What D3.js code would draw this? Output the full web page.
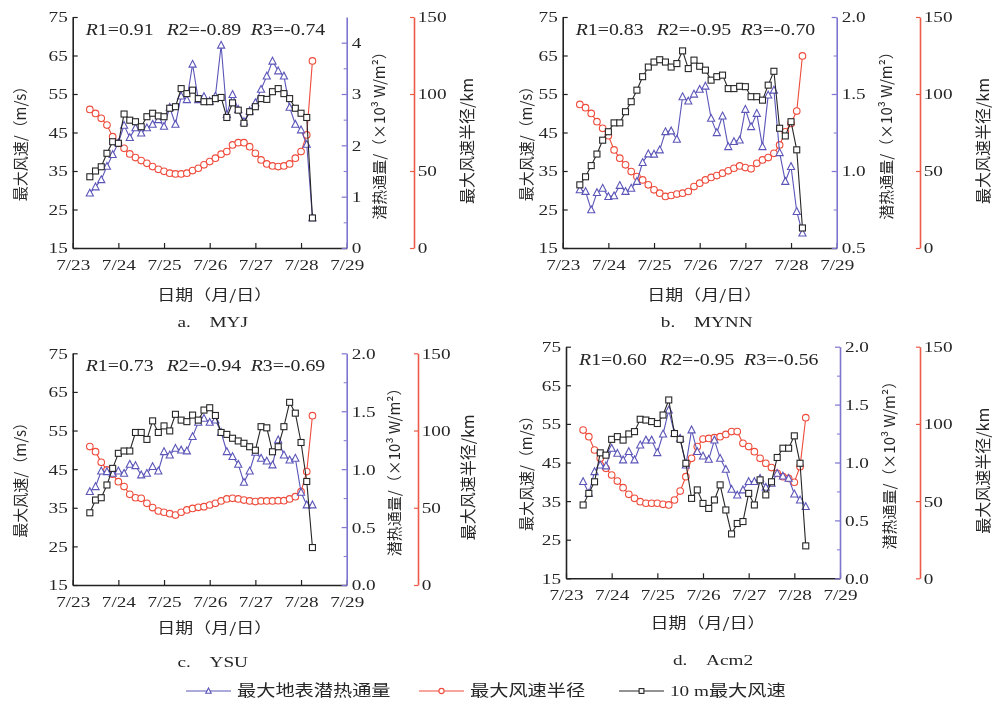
<!DOCTYPE html>
<html>
<head>
<meta charset="utf-8">
<script src="https://cdn.jsdelivr.net/npm/d3@7/dist/d3.min.js"></script>
<style>
body { margin: 0; background: #fff; }
svg { will-change: transform; }
svg text { fill: #262626; }
</style>
</head>
<body>
<div id="chart"></div>
<script>
// hours after 7/23 00:00 (3-hourly output)
var hours = [9, 12, 15, 18, 21, 24, 27, 30, 33, 36, 39, 42, 45, 48, 51, 54, 57, 60, 63, 66,
             69, 72, 75, 78, 81, 84, 87, 90, 93, 96, 99, 102, 105, 108, 111, 114, 117, 120, 123, 126];
var dayTicks = [0, 24, 48, 72, 96, 120, 144];
var dayLabels = ["7/23", "7/24", "7/25", "7/26", "7/27", "7/28", "7/29"];
var windTicks = [15, 25, 35, 45, 55, 65, 75];
var radiusTicks = [0, 50, 100, 150];

// a. MYJ
var myjWind = [33.5, 35.0, 36.1, 39.6, 42.6, 42.2, 49.8, 48.2, 47.8, 46.5, 49.1, 50.0, 49.3, 49.1, 51.3, 51.7, 56.4, 55.1, 56.0, 53.8,
               53.0, 53.0, 53.8, 54.1, 48.9, 52.7, 50.8, 47.4, 50.4, 51.7, 53.8, 53.6, 55.6, 56.4, 55.1, 53.8, 51.3, 50.0, 48.9, 22.8];
var myjFlux = [1.07, 1.19, 1.33, 1.59, 1.82, 2.05, 2.39, 2.15, 2.34, 2.24, 2.34, 2.41, 2.50, 2.37, 2.74, 2.41, 2.96, 2.89, 3.58, 2.89,
               2.95, 2.86, 2.96, 3.95, 2.60, 2.99, 2.70, 2.46, 2.67, 2.83, 3.09, 3.35, 3.64, 3.45, 3.35, 2.74, 2.41, 2.30, 2.02, 0.59];
var myjRadius = [90.0, 87.4, 84.2, 79.8, 72.3, 68.0, 64.7, 61.1, 58.7, 56.8, 55.0, 52.9, 51.1, 49.8, 48.6, 48.1, 48.1, 48.6, 50.3, 51.8,
                 54.0, 56.1, 58.3, 60.9, 62.6, 66.9, 68.4, 68.4, 65.8, 61.5, 57.2, 54.6, 53.3, 52.9, 53.3, 54.6, 58.3, 62.6, 73.4, 121.5];

// b. MYNN
var mynnWind = [31.4, 33.5, 36.4, 39.4, 43.0, 45.2, 47.5, 47.5, 50.4, 53.0, 56.0, 59.5, 62.0, 63.3, 63.9, 63.3, 62.0, 62.9, 66.2, 61.6,
                63.8, 62.2, 61.2, 58.6, 59.5, 59.9, 56.4, 56.4, 57.0, 56.9, 54.3, 54.3, 53.4, 57.3, 60.9, 46.1, 44.1, 47.8, 40.5, 20.2];
var mynnFlux = [0.878, 0.867, 0.748, 0.860, 0.888, 0.834, 0.839, 0.906, 0.867, 0.888, 0.932, 1.055, 1.111, 1.109, 1.137, 1.255, 1.260, 1.206, 1.482, 1.454,
                1.499, 1.530, 1.551, 1.342, 1.249, 1.357, 1.158, 1.191, 1.201, 1.400, 1.288, 1.374, 1.158, 1.493, 1.525, 1.119, 0.932, 1.029, 0.737, 0.597];
var mynnRadius = [93.2, 91.1, 87.4, 82.0, 77.7, 72.9, 63.7, 58.3, 54.0, 49.6, 46.4, 44.2, 41.0, 37.8, 35.6, 33.5, 34.1, 35.0, 35.6, 36.7,
                  39.9, 42.1, 44.2, 45.8, 47.0, 48.6, 50.1, 51.8, 53.3, 52.2, 51.4, 55.0, 57.2, 58.7, 61.5, 66.9, 75.5, 80.9, 88.9, 124.7];

// c. YSU
var ysuWind = [33.7, 37.0, 37.6, 40.9, 45.2, 49.1, 49.7, 49.7, 54.5, 54.5, 52.7, 57.5, 54.5, 56.2, 54.9, 59.2, 57.7, 57.3, 59.0, 57.7,
               60.3, 60.9, 58.9, 54.5, 54.0, 53.0, 52.3, 51.7, 50.8, 49.9, 56.0, 55.7, 49.5, 50.8, 56.0, 62.3, 59.5, 51.9, 41.8, 24.7];
var ysuFlux = [0.806, 0.849, 0.984, 0.978, 0.964, 0.984, 0.964, 1.042, 1.030, 0.950, 0.964, 1.022, 0.984, 1.151, 1.122, 1.180, 1.165, 1.157, 1.281, 1.404,
               1.439, 1.404, 1.424, 1.318, 1.151, 1.108, 1.042, 0.886, 0.984, 1.145, 1.094, 1.070, 1.036, 1.252, 1.122, 1.079, 1.094, 0.800, 0.691, 0.691];
var ysuRadius = [89.6, 86.3, 79.4, 74.5, 71.7, 66.9, 63.7, 58.7, 56.5, 56.1, 52.9, 50.1, 47.9, 47.1, 46.2, 45.3, 47.1, 48.6, 49.6, 50.3,
                 50.7, 51.8, 52.9, 54.4, 55.7, 56.1, 55.7, 55.0, 54.4, 54.0, 54.4, 54.4, 54.4, 54.6, 54.6, 55.7, 57.2, 60.4, 73.4, 109.6];

// d. Acm2
var acmWind = [34.0, 37.0, 40.0, 47.5, 46.9, 51.0, 51.7, 50.8, 52.4, 53.0, 56.2, 56.0, 55.6, 55.1, 57.3, 61.2, 52.5, 51.0, 44.8, 35.7,
               37.9, 34.4, 33.1, 35.3, 39.2, 32.7, 26.5, 29.2, 29.7, 37.0, 34.0, 40.5, 36.6, 40.0, 46.3, 48.7, 48.7, 51.9, 44.8, 23.4];
var acmFlux = [0.835, 0.734, 0.921, 0.978, 0.970, 1.122, 1.079, 1.022, 1.094, 1.022, 1.151, 1.194, 1.194, 1.085, 1.246, 1.453, 1.252, 1.209, 0.978, 1.281,
               1.094, 1.056, 1.027, 1.194, 1.036, 0.941, 0.768, 0.719, 0.763, 0.835, 0.835, 0.863, 0.786, 0.820, 0.906, 0.883, 0.863, 0.728, 0.676, 0.619];
var acmRadius = [96.0, 91.7, 83.1, 77.7, 71.2, 66.9, 63.0, 58.7, 54.4, 51.8, 49.6, 48.6, 48.6, 48.6, 47.9, 47.5, 50.7, 56.5, 65.8, 77.7,
                 85.3, 90.2, 90.6, 91.1, 91.7, 93.2, 95.0, 95.0, 87.4, 85.3, 82.0, 77.7, 74.5, 71.7, 68.0, 65.8, 64.7, 62.2, 72.3, 104.0];

var rMyj = ["0.91", "-0.89", "-0.74"];
var rMynn = ["0.83", "-0.95", "-0.70"];
var rYsu = ["0.73", "-0.94", "-0.69"];
var rAcm = ["0.60", "-0.95", "-0.56"];

var fluxTicksA = [0, 1, 2, 3, 4];
var fluxTicksB = [0.5, 1.0, 1.5, 2.0];
var fluxTicksCD = [0, 0.5, 1.0, 1.5, 2.0];

var legendNames = ["最大地表潜热通量", "最大风速半径", "10 m最大风速"];

var W = 993, H = 704;
var sx = 1.24; // the figure is stretched sideways
var serif = "'Liberation Serif', 'DejaVu Serif', serif";
var cjk = "'Noto Sans CJK SC', sans-serif";
var cBlack = "#262626", cBlue = "#5b55b8", cRed = "#ee4b3b";
var cBlueAxis = "#7d74d0", cRedAxis = "#ec5a48";

var svg = d3.select("#chart").append("svg")
   .attr("width", W)
   .attr("height", H);

function txt(parent, x, y, str, size, anchor, family, rotate) {
  var g = parent.append("g")
     .attr("transform", "translate(" + x + "," + y + ")" + (rotate ? " rotate(-90)" : " scale(" + sx + ",1)"));
  return g.append("text")
     .attr("text-anchor", anchor)
     .attr("font-family", family)
     .attr("font-size", size)
     .attr("fill", "#262626")
     .text(str);
}

function stretchTicks(ax) {
  ax.selectAll("text")
    .attr("font-family", serif)
    .attr("font-size", 15.5)
    .attr("fill", "#262626")
    .attr("transform", "scale(" + sx + ",1)");
}

function drawMarker(g, type, cx, cy, color, s) {
  if (type == "square") {
    g.append("rect").attr("x", cx - s).attr("y", cy - s).attr("width", 2 * s).attr("height", 2 * s)
     .attr("fill", "#fff").attr("stroke", color).attr("stroke-width", 1.1);
  } else if (type == "circle") {
    g.append("circle").attr("cx", cx).attr("cy", cy).attr("r", s)
     .attr("fill", "#fff").attr("stroke", color).attr("stroke-width", 1.1);
  } else {
    var h = s * 1.15;
    g.append("path")
     .attr("d", "M" + cx + "," + (cy - h) + "L" + (cx + s * 1.05) + "," + (cy + h * 0.75) + "L" + (cx - s * 1.05) + "," + (cy + h * 0.75) + "Z")
     .attr("fill", "#fff").attr("stroke", color).attr("stroke-width", 1.1);
  }
}

function drawPanel(p) {
  var g = svg.append("g");

  var x = d3.scaleLinear().domain([0, 144]).range([p.x0, p.x1]);
  var yW = d3.scaleLinear().domain([15, 75]).range([p.y1, p.y0]);
  var yF = d3.scaleLinear().domain(p.fluxDomain).range([p.y1, p.y0]);
  var yR = d3.scaleLinear().domain([0, 150]).range([p.y1, p.y0]);

  // left axis
  var axL = g.append("g").attr("transform", "translate(" + p.x0 + ",0)")
     .call(d3.axisLeft(yW).tickValues(windTicks).tickSizeInner(-5).tickSizeOuter(0).tickPadding(4));
  axL.select(".domain").attr("stroke", "#222").attr("stroke-width", 1.6);
  axL.selectAll("line").attr("stroke", "#222").attr("stroke-width", 1.2);
  stretchTicks(axL);

  // bottom axis
  var axB = g.append("g").attr("transform", "translate(0," + p.y1 + ")")
     .call(d3.axisBottom(x).tickValues(dayTicks).tickFormat(function(d, i) { return dayLabels[i]; })
       .tickSizeInner(-5).tickSizeOuter(0).tickPadding(11));
  axB.select(".domain").attr("stroke", "#222").attr("stroke-width", 1.6);
  axB.selectAll("line").attr("stroke", "#222").attr("stroke-width", 1.2);
  stretchTicks(axB);

  // latent heat flux axis
  var fStep = p.fluxTicks[1] - p.fluxTicks[0];
  var minor = d3.range(p.fluxDomain[0] + fStep / 2, p.fluxDomain[1], fStep);
  var axMinor = g.append("g").attr("transform", "translate(" + p.x1 + ",0)")
     .call(d3.axisRight(yF).tickValues(minor).tickSizeInner(-3).tickSizeOuter(0).tickFormat(""));
  axMinor.select(".domain").remove();
  axMinor.selectAll("line").attr("stroke", cBlueAxis);
  var axF = g.append("g").attr("transform", "translate(" + p.x1 + ",0)")
     .call(d3.axisRight(yF).tickValues(p.fluxTicks).tickFormat(d3.format(p.fluxFormat))
       .tickSizeInner(-5).tickSizeOuter(0).tickPadding(4));
  axF.select(".domain").attr("stroke", cBlueAxis).attr("stroke-width", 1.6);
  axF.selectAll("line").attr("stroke", cBlueAxis).attr("stroke-width", 1.2);
  stretchTicks(axF);

  // radius axis
  var axR = g.append("g").attr("transform", "translate(" + p.xr + ",0)")
     .call(d3.axisRight(yR).tickValues(radiusTicks).tickSizeInner(-4).tickSizeOuter(0).tickPadding(3));
  axR.select(".domain").attr("stroke", cRedAxis).attr("stroke-width", 1.6);
  axR.selectAll("line").attr("stroke", cRedAxis).attr("stroke-width", 1.2);
  stretchTicks(axR);

  // titles
  txt(g, p.x0 - p.leftTitleDx, p.y0 + 123, "最大风速/（m/s）", 15, "middle", cjk, true).attr("dy", "0.35em");
  txt(g, p.x1 + p.fluxTitleDx, p.y0 + 115, "潜热通量/（×10³ W/m²）", 15, "middle", cjk, true).attr("dy", "0.35em");
  txt(g, p.xr + p.radTitleDx, p.y0 + 124, "最大风速半径/km", 16, "middle", cjk, true).attr("dy", "0.35em");
  txt(g, p.x0 + 142, p.y1 + p.xTitleDy, "日期（月/日）", 14.5, "middle", cjk, false);
  txt(g, p.x0 + p.capDx, p.y1 + p.capDy, p.caption, 15.5, "middle", serif, false);

  // correlation labels
  var rx = [13, 94, 178];
  p.r.forEach(function(v, i) {
    var t = txt(g, p.x0 + rx[i], p.y0 + 18, "", 16, "start", serif, false);
    t.append("tspan").attr("font-style", "italic").text("R");
    t.append("tspan").text((i + 1) + "=" + v);
  });

  var series = [
    {vals: p.radius, y: yR, color: cRed, type: "circle", s: 3.3},
    {vals: p.flux, y: yF, color: cBlue, type: "triangle", s: 3.4},
    {vals: p.wind, y: yW, color: cBlack, type: "square", s: 3.0}
  ];
  series.forEach(function(se) {
    var line = d3.line()
       .x(function(d, i) { return x(hours[i]); })
       .y(function(d) { return se.y(d); });
    g.append("path")
     .datum(se.vals)
     .attr("d", line)
     .attr("fill", "none")
     .attr("stroke", se.color)
     .attr("stroke-width", 1.1);
    var mg = g.append("g");
    se.vals.forEach(function(d, i) {
      drawMarker(mg, se.type, x(hours[i]), se.y(d), se.color, se.s);
    });
  });
}

var panels = [
  {wind: myjWind, flux: myjFlux, radius: myjRadius, r: rMyj, caption: "a.　MYJ",
   fluxDomain: [0, 4.5], fluxTicks: fluxTicksA, fluxFormat: "d",
   x0: 72.7, x1: 346.7, y0: 17, y1: 248, xr: 414, leftTitleDx: 52, fluxTitleDx: 33, radTitleDx: 53,
   xTitleDy: 52, capDy: 79, capDx: 140},
  {wind: mynnWind, flux: mynnFlux, radius: mynnRadius, r: rMynn, caption: "b.　MYNN",
   fluxDomain: [0.5, 2.0], fluxTicks: fluxTicksB, fluxFormat: ".1f",
   x0: 562.7, x1: 836.7, y0: 17, y1: 248, xr: 920, leftTitleDx: 36, fluxTitleDx: 50, radTitleDx: 63,
   xTitleDy: 52, capDy: 79, capDx: 144},
  {wind: ysuWind, flux: ysuFlux, radius: ysuRadius, r: rYsu, caption: "c.　YSU",
   fluxDomain: [0, 2.0], fluxTicks: fluxTicksCD, fluxFormat: ".1f",
   x0: 72.7, x1: 346.7, y0: 353.3, y1: 585, xr: 418, leftTitleDx: 52, fluxTitleDx: 48, radTitleDx: 50,
   xTitleDy: 48, capDy: 82, capDx: 140},
  {wind: acmWind, flux: acmFlux, radius: acmRadius, r: rAcm, caption: "d.　Acm2",
   fluxDomain: [0, 2.0], fluxTicks: fluxTicksCD, fluxFormat: ".1f",
   x0: 566, x1: 840, y0: 346.7, y1: 578.3, xr: 920, leftTitleDx: 39, fluxTitleDx: 50, radTitleDx: 63,
   xTitleDy: 50, capDy: 87, capDx: 147}
];

panels.forEach(drawPanel);

// legend
var lg = svg.append("g");
var legendItems = [
  {x: 186, color: cBlue, type: "triangle", s: 2.6},
  {x: 419, color: cRed, type: "circle", s: 2.6},
  {x: 619, color: cBlack, type: "square", s: 2.4}
];
legendItems.forEach(function(d, i) {
  lg.append("line").attr("x1", d.x).attr("x2", d.x + 45).attr("y1", 691).attr("y2", 691)
    .attr("stroke", d.color).attr("stroke-width", 1.2);
  drawMarker(lg, d.type, d.x + 22.5, 691, d.color, d.s);
  txt(lg, d.x + 51, 691, legendNames[i], 15.5, "start", i == 2 ? serif + ", " + cjk : cjk, false).attr("dy", "0.35em");
});
</script>
</body>
</html>
